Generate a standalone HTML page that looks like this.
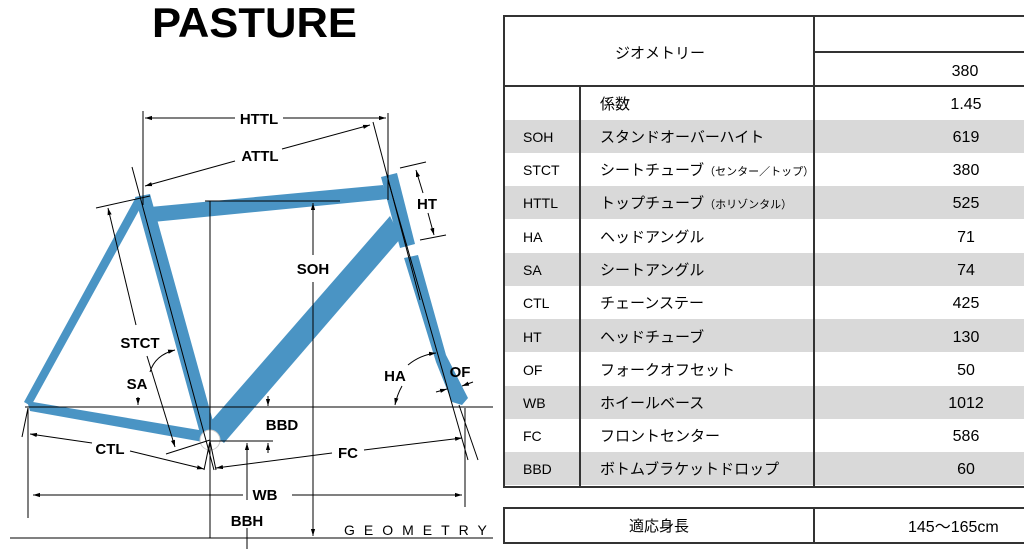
<!DOCTYPE html>
<html><head><meta charset="utf-8"><style>
html,body{margin:0;padding:0;background:#fff;width:1024px;height:549px;overflow:hidden}
svg{position:absolute;left:0;top:0}
text{font-family:"Liberation Sans","Noto Sans CJK JP",sans-serif}
</style></head><body>
<svg width="1024" height="549" viewBox="0 0 1024 549" xmlns="http://www.w3.org/2000/svg">
<defs>
<marker id="a" viewBox="0 0 10 10" refX="10" refY="5" markerWidth="7" markerHeight="7" orient="auto-start-reverse"><path d="M0,2 L10,5 L0,8 z" fill="#000"/></marker>
</defs>
<text x="152" y="37" font-size="42" font-weight="bold" textLength="205" lengthAdjust="spacingAndGlyphs">PASTURE</text>

<!-- frame -->
<g fill="#4a94c4">
<polygon points="150,207 383,185 388,199 153,222"/>
<polygon points="381,177 397,173 415,244 400,248"/>
<polygon points="404,258 418,255 446,355 468,398 462,405 452,402 436,362"/>
<polygon points="135,197 150,194 216,432 201,437"/>
<polygon points="390,216 401,238 224,443 205,428"/>
<polygon points="136,197 143,203 31,406 24,402"/>
<polygon points="27,401 30,411 203,442 205,431"/>
</g>
<circle cx="210" cy="440" r="10" fill="#fff" stroke="#ccc"/>

<g stroke="#000" stroke-width="1" fill="none">
<!-- horizontal refs -->
<line x1="25" y1="407" x2="493" y2="407"/>
<line x1="10" y1="538" x2="493" y2="538"/>
<line x1="205" y1="201" x2="340" y2="201"/>
<line x1="210" y1="201" x2="210" y2="538"/>
<line x1="210" y1="441" x2="273" y2="441"/>
<!-- HTTL -->
<line x1="143" y1="111" x2="143" y2="205"/>
<line x1="388" y1="113" x2="388" y2="200"/>
<line x1="145" y1="118" x2="235" y2="118" marker-start="url(#a)"/>
<line x1="283" y1="118" x2="386" y2="118" marker-end="url(#a)"/>
<!-- ATTL -->
<line x1="145" y1="186" x2="235" y2="161" marker-start="url(#a)"/>
<line x1="282" y1="149" x2="370" y2="125" marker-end="url(#a)"/>
<line x1="373" y1="122" x2="420" y2="300"/>
<!-- seat tube center line -->
<line x1="132" y1="167" x2="214" y2="470"/>
<line x1="96" y1="208" x2="150" y2="196"/>
<!-- HT -->
<line x1="400" y1="168" x2="426" y2="162"/>
<line x1="420" y1="240" x2="446" y2="235"/>
<line x1="416" y1="170" x2="423" y2="193" marker-start="url(#a)"/>
<line x1="428" y1="213" x2="434" y2="235" marker-end="url(#a)"/>
<!-- head/fork axis -->
<line x1="388" y1="180" x2="468" y2="460"/>
<line x1="459" y1="405" x2="478" y2="460"/>
<!-- SOH -->
<line x1="313" y1="203" x2="313" y2="255" marker-start="url(#a)"/>
<line x1="313" y1="282" x2="313" y2="536" marker-end="url(#a)"/>
<!-- STCT -->
<line x1="108" y1="208" x2="136" y2="325" marker-start="url(#a)"/>
<line x1="147" y1="356" x2="175" y2="447" marker-end="url(#a)"/>
<line x1="166" y1="454" x2="210" y2="440"/>
<!-- SA arc -->
<path d="M150,372 Q155,355 175,350" marker-end="url(#a)"/>
<line x1="138" y1="397" x2="138" y2="405" marker-end="url(#a)"/>
<!-- HA arc -->
<path d="M408,365 Q420,355 436,353" marker-end="url(#a)"/>
<path d="M402,386 Q397,395 395,405" marker-end="url(#a)"/>
<!-- OF -->
<line x1="436" y1="392" x2="447" y2="389" marker-end="url(#a)"/>
<line x1="473" y1="382" x2="462" y2="386" marker-end="url(#a)"/>
<!-- BBD -->
<line x1="268" y1="396" x2="268" y2="406" marker-end="url(#a)"/>
<line x1="268" y1="453" x2="268" y2="443" marker-end="url(#a)"/>
<!-- BBH -->
<line x1="247" y1="500" x2="247" y2="443" marker-end="url(#a)"/>
<line x1="247" y1="528" x2="247" y2="549"/>
<!-- rear verticals -->
<line x1="28" y1="408" x2="28" y2="518"/>
<line x1="28" y1="408" x2="22" y2="437"/>
<line x1="465" y1="408" x2="465" y2="507"/>
<line x1="210" y1="441" x2="204" y2="470"/>
<line x1="210" y1="441" x2="216" y2="470"/>
<!-- CTL -->
<line x1="30" y1="434" x2="92" y2="443" marker-start="url(#a)"/>
<line x1="130" y1="451" x2="204" y2="469" marker-end="url(#a)"/>
<!-- FC -->
<line x1="216" y1="468" x2="332" y2="453" marker-start="url(#a)"/>
<line x1="364" y1="450" x2="462" y2="438" marker-end="url(#a)"/>
<!-- WB -->
<line x1="33" y1="495" x2="243" y2="495" marker-start="url(#a)"/>
<line x1="292" y1="495" x2="462" y2="495" marker-end="url(#a)"/>
</g>
<g font-size="15" font-weight="bold" text-anchor="middle" fill="#000">
<text x="259" y="124">HTTL</text>
<text x="260" y="161">ATTL</text>
<text x="427" y="209">HT</text>
<text x="313" y="274">SOH</text>
<text x="140" y="348">STCT</text>
<text x="137" y="389">SA</text>
<text x="395" y="381">HA</text>
<text x="460" y="377">OF</text>
<text x="282" y="430">BBD</text>
<text x="110" y="454">CTL</text>
<text x="348" y="458">FC</text>
<text x="265" y="500">WB</text>
<text x="247" y="526">BBH</text>
</g>
<text x="344" y="535" font-size="14" letter-spacing="9">GEOMETRY</text>

<!-- table -->
<g fill="#d9d9d9">
<rect x="505" y="120" width="519" height="33"/>
<rect x="505" y="186" width="519" height="33"/>
<rect x="505" y="253" width="519" height="33"/>
<rect x="505" y="319" width="519" height="33"/>
<rect x="505" y="386" width="519" height="33"/>
<rect x="505" y="452" width="519" height="33"/>
</g>
<g stroke="#333" stroke-width="2" fill="none">
<path d="M1024,16 H504 V487 H1024"/>
<line x1="504" y1="86" x2="1024" y2="86"/>
<line x1="814" y1="16" x2="814" y2="487"/>
<line x1="814" y1="52" x2="1024" y2="52"/>
<line x1="580" y1="86" x2="580" y2="487"/>
<path d="M1024,508 H504 V543 H1024"/>
<line x1="814" y1="508" x2="814" y2="543"/>
</g>
<g font-size="15" fill="#000">
<text x="660" y="58" text-anchor="middle">ジオメトリー</text>
<text x="965" y="76" text-anchor="middle" font-size="16">380</text>
<g font-size="14">
<text x="523" y="142">SOH</text>
<text x="523" y="175">STCT</text>
<text x="523" y="208">HTTL</text>
<text x="523" y="242">HA</text>
<text x="523" y="275">SA</text>
<text x="523" y="308">CTL</text>
<text x="523" y="342">HT</text>
<text x="523" y="375">OF</text>
<text x="523" y="408">WB</text>
<text x="523" y="441">FC</text>
<text x="523" y="474">BBD</text>
</g>
<text x="600" y="109">係数</text>
<text x="600" y="142">スタンドオーバーハイト</text>
<text x="600" y="175">シートチューブ<tspan font-size="11">（センター／トップ）</tspan></text>
<text x="600" y="208">トップチューブ<tspan font-size="11">（ホリゾンタル）</tspan></text>
<text x="600" y="242">ヘッドアングル</text>
<text x="600" y="275">シートアングル</text>
<text x="600" y="308">チェーンステー</text>
<text x="600" y="342">ヘッドチューブ</text>
<text x="600" y="375">フォークオフセット</text>
<text x="600" y="408">ホイールベース</text>
<text x="600" y="441">フロントセンター</text>
<text x="600" y="474">ボトムブラケットドロップ</text>
<g text-anchor="middle" font-size="16">
<text x="966" y="109">1.45</text>
<text x="966" y="142">619</text>
<text x="966" y="175">380</text>
<text x="966" y="208">525</text>
<text x="966" y="242">71</text>
<text x="966" y="275">74</text>
<text x="966" y="308">425</text>
<text x="966" y="342">130</text>
<text x="966" y="375">50</text>
<text x="966" y="408">1012</text>
<text x="966" y="441">586</text>
<text x="966" y="474">60</text>
</g>
<text x="659" y="531" text-anchor="middle">適応身長</text>
<text x="908" y="532" font-size="16">145〜165cm</text>
</g>
</svg>
</body></html>
